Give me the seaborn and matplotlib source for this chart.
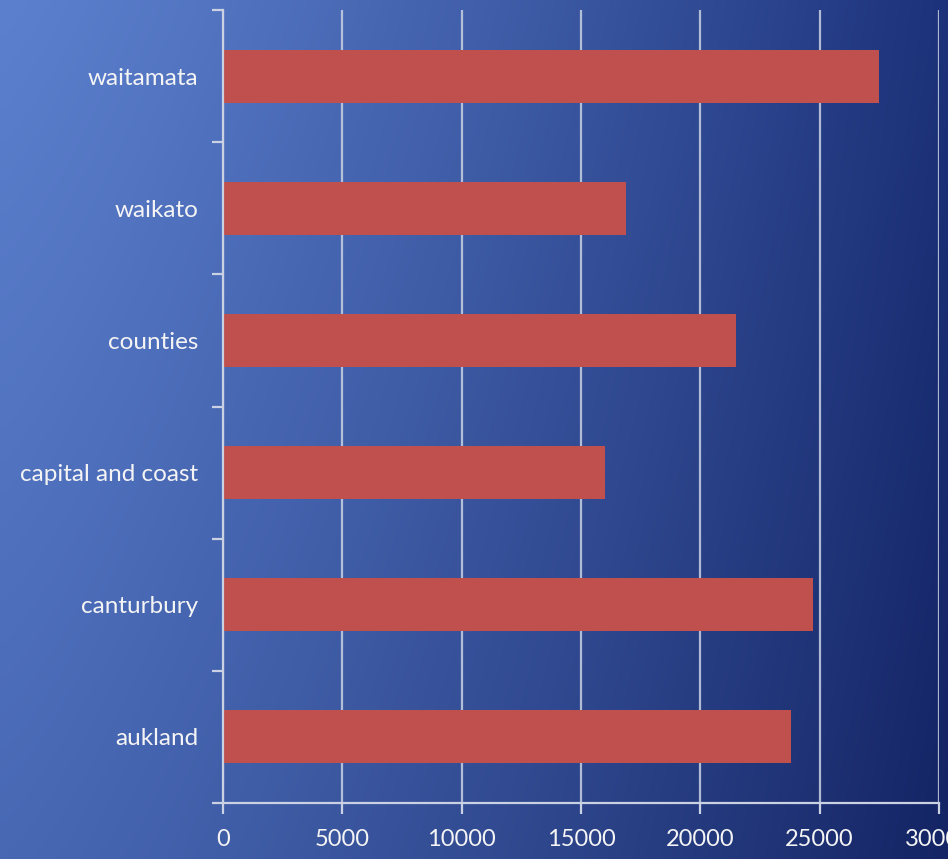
import numpy as np
import pandas as pd
import matplotlib
matplotlib.use("Agg")
import matplotlib.pyplot as plt
import seaborn as sns

# Data
regions = ["waitamata", "waikato", "counties", "capital and coast", "canturbury", "aukland"]
values = [27500, 16900, 21500, 16000, 24700, 23800]
x_ticks = [0, 5000, 10000, 15000, 20000, 25000, 30000]
x_tick_labels = ["0", "5000", "10000", "15000", "20000", "25000", "30000"]

df = pd.DataFrame({"region": regions, "value": values})

sns.set_theme(style="white")
plt.rcParams["font.family"] = ["Lato", "DejaVu Sans"]

W, H = 948, 859
fig = plt.figure(figsize=(W / 100, H / 100), dpi=100)

# Blue gradient backdrop: light on the left, deep navy on the right
bg = fig.add_axes([0, 0, 1, 1], zorder=0)
bg.set_axis_off()
xs = np.linspace(0, 1, 400)
ys = np.linspace(0, 1, 400)
X, Y = np.meshgrid(xs, ys)
left_top = np.array([92, 128, 206]) / 255
left_bot = np.array([72, 104, 180]) / 255
right_top = np.array([28, 50, 122]) / 255
right_bot = np.array([20, 36, 100]) / 255
t = np.clip(X ** 1.25, 0, 1)[..., None]
v = Y[..., None]
top = left_top * (1 - t) + right_top * t
bot = left_bot * (1 - t) + right_bot * t
img = top * (1 - v) + bot * v
bg.imshow(img, aspect="auto", extent=[0, 1, 0, 1], origin="upper")
bg.set_xlim(0, 1)
bg.set_ylim(0, 1)

# Main chart
left_px, right_px, top_px, bot_px = 223, 939, 10, 803
ax = fig.add_axes([left_px / W, 1 - bot_px / H, (right_px - left_px) / W, (bot_px - top_px) / H], zorder=1)
ax.patch.set_alpha(0)

line_col = "#c9d1e3"
ax.set_xlim(0, 30000)
ax.set_xticks(x_ticks)
ax.xaxis.grid(True, color=line_col, linewidth=1.6, alpha=0.85, zorder=0)
ax.set_axisbelow(True)

sns.barplot(data=df, x="value", y="region", orient="h", color="#c0504d",
            width=0.4, saturation=1, ax=ax, zorder=2, linewidth=0)

ax.set_xlim(0, 30000)
ax.set_ylim(len(regions) - 0.5, -0.5)
ax.set_xticks(x_ticks)
ax.set_xticklabels(x_tick_labels)
ax.set_xlabel("")
ax.set_ylabel("")

# Category boundary ticks on the value axis
ax.set_yticks(np.arange(-0.5, len(regions), 1.0), minor=True)
ax.tick_params(axis="y", which="minor", length=8, width=1.6, color=line_col, left=True)
ax.tick_params(axis="y", which="major", length=0, pad=18, labelsize=17.5, labelcolor="#f4f4f4")
ax.tick_params(axis="x", which="major", length=8, width=1.6, color=line_col, bottom=True,
               pad=11, labelsize=17, labelcolor="#f4f4f4")

for side in ["top", "right"]:
    ax.spines[side].set_visible(False)
for side in ["left", "bottom"]:
    ax.spines[side].set_color(line_col)
    ax.spines[side].set_linewidth(1.6)

fig.savefig("out.png", dpi=100)
